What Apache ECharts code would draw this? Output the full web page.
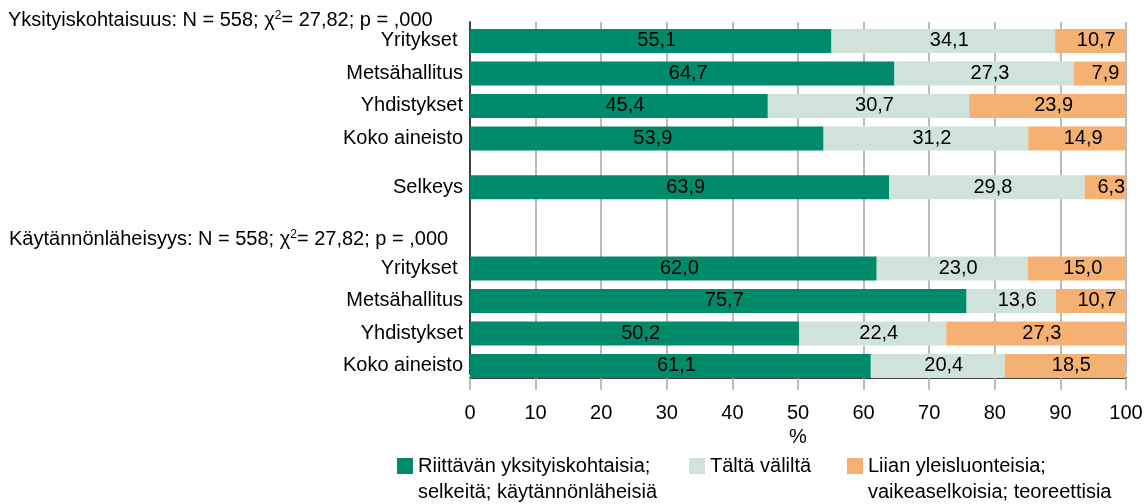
<!DOCTYPE html>
<html lang="fi">
<head>
    <meta charset="UTF-8">
    <title>Yksityiskohtaisuus ja käytännönläheisyys</title>
    <script src="https://cdn.jsdelivr.net/npm/echarts@6/dist/echarts.min.js"></script>
    <style>
        html, body { margin: 0; padding: 0; background: #fff; }
        #pic { width: 1146px; height: 504px; }
    </style>
</head>
<body>
<div id="pic"></div>
<script type="text/javascript">
    // data, top to bottom
    var rowNames = ['Yritykset ', 'Metsähallitus', 'Yhdistykset', 'Koko aineisto', 'Selkeys',
        'Yritykset ', 'Metsähallitus', 'Yhdistykset', 'Koko aineisto'];
    var riittava = [55.1, 64.7, 45.4, 53.9, 63.9, 62.0, 75.7, 50.2, 61.1];
    var taltaValilta = [34.1, 27.3, 30.7, 31.2, 29.8, 23.0, 13.6, 22.4, 20.4];
    var liian = [10.7, 7.9, 23.9, 14.9, 6.3, 15.0, 10.7, 27.3, 18.5];
    var seriesNames = ['Riittävän yksityiskohtaisia;\nselkeitä; käytännönläheisiä',
        'Tältä väliltä',
        'Liian yleisluonteisia;\nvaikeaselkoisia; teoreettisia'];
    var headers = ['Yksityiskohtaisuus', 'Käytännönläheisyys'];

    // rows sit on a fine category grid (gaps between the groups)
    var rowStep = [0, 2, 4, 6, 9, 14, 16, 18, 20];
    var slotCount = 65;
    var cats = [], s1 = [], s2 = [], s3 = [];
    for (var i = 0; i < slotCount; i++) { cats.push(''); s1.push('-'); s2.push('-'); s3.push('-'); }
    rowNames.forEach(function (n, i) {
        var k = 3 + 3 * rowStep[i];
        cats[k] = n; s1[k] = riittava[i]; s2[k] = taltaValilta[i]; s3[k] = liian[i];
    });

    var colors = ['#008a6c', '#cfe3db', '#f5b172'];
    var FONT = '"Liberation Sans", Arial, sans-serif';

    function fmt(p) { return p.value.toFixed(1).replace('.', ','); }

    function makeSeries(name, data, color) {
        return {
            name: name, type: 'bar', stack: 'all', data: data,
            barWidth: 24, clip: false,
            itemStyle: { color: color },
            label: { show: true, position: 'inside', color: '#000', fontSize: 20, fontFamily: FONT,
                offset: [6, 0], formatter: fmt }
        };
    }

    function header(txt, x, y) {
        return {
            type: 'text', left: x, top: y,
            style: {
                text: '{a|' + txt + ': N = 558; χ}{s|2}{a|= 27,82; p = ,000}',
                rich: {
                    a: { fontSize: 20, fontFamily: FONT, fill: '#000', verticalAlign: 'bottom' },
                    s: { fontSize: 12, fontFamily: FONT, fill: '#000', verticalAlign: 'top', padding: [0, 0, 6, 0] }
                }
            }
        };
    }

    // two-line legend texts: blank first line keeps the icon level with the first text line
    function legendBox(name, x, y) {
        return {
            data: [name], left: x, top: y, padding: 0, itemWidth: 16, itemHeight: 16, icon: 'rect',
            formatter: function (n) { return n.indexOf('\n') >= 0 ? '\n' + n : n; },
            textStyle: { fontSize: 20, color: '#000', lineHeight: 26, fontFamily: FONT }
        };
    }

    var chart = echarts.init(document.getElementById('pic'));
    var option = {
        animation: false,
        textStyle: { fontFamily: FONT },
        grid: { left: 470, right: 20, top: 22, bottom: 130, containLabel: false },
        xAxis: {
            type: 'value', min: 0, max: 100, interval: 10, offset: 4,
            name: '%', nameLocation: 'middle', nameGap: 49,
            nameTextStyle: { fontSize: 20, color: '#000', fontFamily: FONT },
            axisLine: { show: true, lineStyle: { color: '#404040', width: 2 } },
            axisTick: { show: true, length: 12, lineStyle: { color: '#a6a6a6', width: 1.5 } },
            axisLabel: { color: '#000', fontSize: 20, margin: 25, fontFamily: FONT },
            splitLine: { show: true, lineStyle: { color: '#a6a6a6', width: 1.5 } }
        },
        yAxis: {
            type: 'category', inverse: true, data: cats,
            axisLine: { show: true, lineStyle: { color: '#404040', width: 2 } },
            axisTick: { show: false },
            axisLabel: { interval: 0, color: '#000', fontSize: 20, margin: 7, fontFamily: FONT }
        },
        legend: [
            legendBox(seriesNames[0], 397, 427),
            legendBox(seriesNames[1], 689, 453),
            legendBox(seriesNames[2], 847, 427)
        ],
        graphic: [header(headers[0], 8, 10), header(headers[1], 9, 229)],
        series: [
            makeSeries(seriesNames[0], s1, colors[0]),
            makeSeries(seriesNames[1], s2, colors[1]),
            makeSeries(seriesNames[2], s3, colors[2])
        ]
    };
    chart.setOption(option);
</script>
</body>
</html>
